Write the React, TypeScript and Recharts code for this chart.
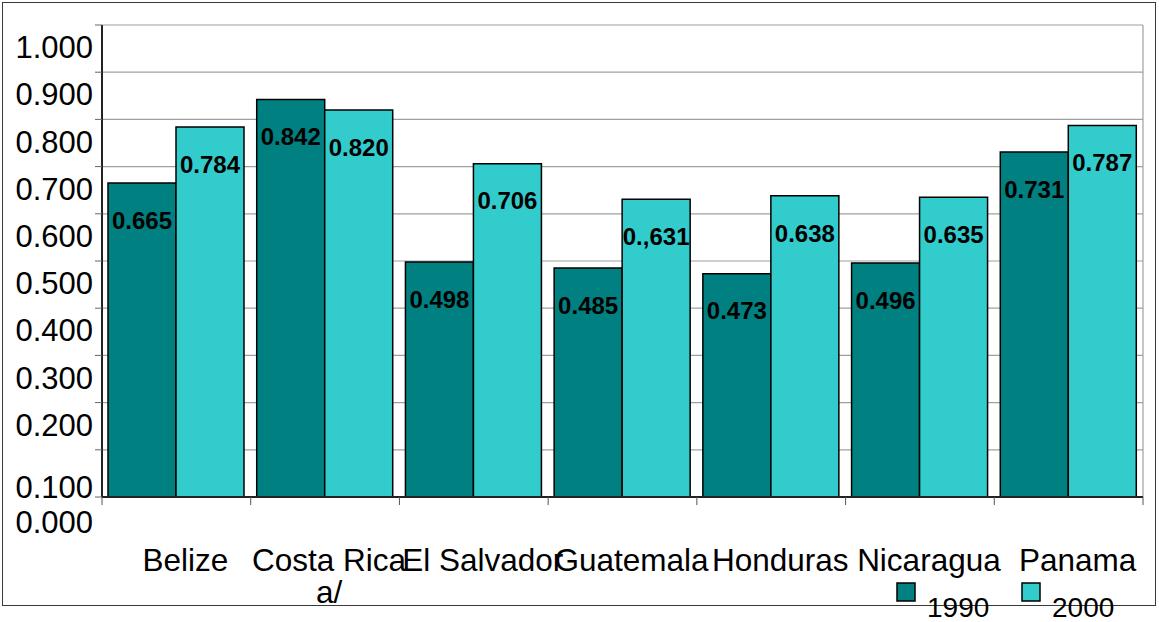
import React from 'react'
import { BarChart, Bar, XAxis, YAxis, CartesianGrid, Legend, LabelList } from 'recharts'

// values
const countries = ['Belize', 'Costa Rica a/', 'El Salvador', 'Guatemala', 'Honduras', 'Nicaragua', 'Panama']
const values1990 = [0.665, 0.842, 0.498, 0.485, 0.473, 0.496, 0.731]
const values2000 = [0.784, 0.820, 0.706, 0.631, 0.638, 0.635, 0.787]
// printed labels (the source has a typo on Guatemala 2000)
const labels1990 = ['0.665', '0.842', '0.498', '0.485', '0.473', '0.496', '0.731']
const labels2000 = ['0.784', '0.820', '0.706', '0.,631', '0.638', '0.635', '0.787']
const yTicks = [0, 0.1, 0.2, 0.3, 0.4, 0.5, 0.6, 0.7, 0.8, 0.9, 1.0]
const seriesNames = ['1990', '2000']

const C1990 = '#008080'
const C2000 = '#33CCCC'
const FONT = '"Liberation Sans", Arial, sans-serif'

const data = countries.map((c, i) => ({
  country: c,
  v1990: values1990[i],
  v2000: values2000[i],
  l1990: labels1990[i],
  l2000: labels2000[i],
}))

// the old spreadsheet drew its axis labels a little below their gridlines
function YTick(props: any) {
  const { x, y, payload } = props
  const v = Math.round(payload.value * 10)
  const shift = v === 0 ? 25 : v === 1 ? 37 : 22
  return (
    <text x={x} y={y + shift} dy="0.36em" textAnchor="end" fontSize={31} fontFamily={FONT} fill="#000">
      {payload.value.toFixed(3)}
    </text>
  )
}

function XTick(props: any) {
  const { x, y, payload, index, visibleTicksCount } = props
  const half = payload.offset || 0
  const text: string = payload.value
  const lines = text.length > 12 ? [text.slice(0, text.lastIndexOf(' ')), text.slice(text.lastIndexOf(' ') + 1)] : [text]
  const last = index === (visibleTicksCount ?? countries.length) - 1
  return (
    <g>
      <line x1={x - half} x2={x - half} y1={y} y2={y + 8} stroke="#555" />
      {last && <line x1={x + half} x2={x + half} y1={y} y2={y + 8} stroke="#555" />}
      {lines.map((ln, i) => (
        <text key={i} x={x + (lines.length > 1 ? 4 : 9)} y={y + 63 + i * 32} dy="0.36em" textAnchor="middle"
          fontSize={31.5} fontFamily={FONT} fill="#000">
          {ln}
        </text>
      ))}
    </g>
  )
}

function valueLabel(key: 'l1990' | 'l2000') {
  return (props: any) => {
    const { x, y, width, index } = props
    return (
      <text x={x + width / 2} y={y + 37} dy="0.36em" textAnchor="middle" fontSize={24}
        fontWeight="bold" fontFamily={FONT} fill="#000">
        {data[index][key]}
      </text>
    )
  }
}

function LegendBox() {
  const colors = [C1990, C2000]
  return (
    <svg width={240} height={40} style={{ overflow: 'visible' }}>
      {seriesNames.map((n, i) => (
        <g key={n} transform={`translate(${i * 125},0)`}>
          <rect x={1} y={1} width={18} height={18} fill={colors[i]} stroke="#000" strokeWidth={1.5} />
          <text x={31} y={25} dy="0.36em" fontSize={28} fontFamily={FONT} fill="#000">{n}</text>
        </g>
      ))}
    </svg>
  )
}

export default function App() {
  return (
    <div style={{ position: 'absolute', left: 0, top: 0, width: 1159, height: 622, background: '#fff' }}>
      <div style={{
        position: 'absolute', left: 2, top: 2, width: 1154, height: 604,
        border: '1.5px solid #3a3a3a', boxSizing: 'border-box',
      }} />
      <BarChart
        width={1159}
        height={622}
        data={data}
        margin={{ top: 25, right: 16, left: 0, bottom: 0 }}
        barGap={0}
        barCategoryGap={6}
        style={{ position: 'absolute', left: 0, top: 0 }}
      >
        <CartesianGrid
          stroke="#a0a0a0"
          strokeWidth={1.2}
          vertical
          verticalCoordinatesGenerator={({ offset }: any) => [offset.left + offset.width]}
        />
        <XAxis
          dataKey="country"
          height={125}
          tickLine={false}
          tickSize={0}
          tickMargin={0}
          interval={0}
          axisLine={{ stroke: '#222', strokeWidth: 2 }}
          tick={<XTick />}
        />
        <YAxis
          width={102}
          domain={[0, 1]}
          ticks={yTicks}
          interval={0}
          tickSize={7}
          tickMargin={2}
          tickLine={{ stroke: '#666' }}
          axisLine={{ stroke: '#222', strokeWidth: 2 }}
          tick={<YTick />}
        />
        <Legend
          layout="horizontal"
          verticalAlign="middle"
          align="center"
          wrapperStyle={{ position: 'absolute', left: 896, top: 582, width: 240 }}
          content={<LegendBox />}
        />
        <Bar dataKey="v1990" name="1990" fill={C1990} stroke="#000" strokeWidth={1.5} isAnimationActive={false}>
          <LabelList dataKey="l1990" content={valueLabel('l1990')} />
        </Bar>
        <Bar dataKey="v2000" name="2000" fill={C2000} stroke="#000" strokeWidth={1.5} isAnimationActive={false}>
          <LabelList dataKey="l2000" content={valueLabel('l2000')} />
        </Bar>
      </BarChart>
    </div>
  )
}
